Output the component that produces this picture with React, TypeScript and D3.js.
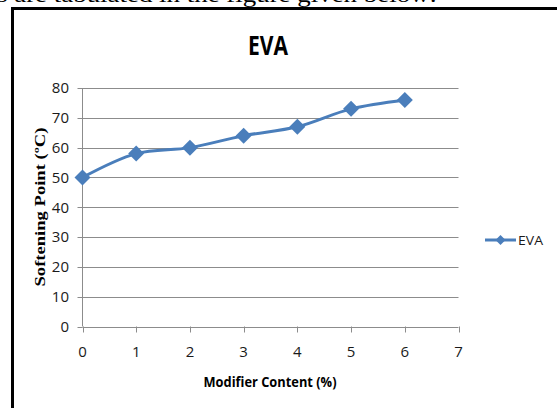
import React from "react";
import * as d3 from "d3";

const categories = [0, 1, 2, 3, 4, 5, 6];
const evaValues = [50, 58, 60, 64, 67, 73, 76];
const xTicks = [0, 1, 2, 3, 4, 5, 6, 7];
const yTicks = [0, 10, 20, 30, 40, 50, 60, 70, 80];

const W = 557;
const H = 408;
const left = 82.5;
const right = 458.5;
const top = 88;
const bottom = 326.5;
const blue = "#4A7EBB";

export default function App() {
  const x = d3.scaleLinear().domain([0, 7]).range([left, right]);
  const y = d3.scaleLinear().domain([0, 80]).range([bottom, top]);
  const line = d3
    .line<number>()
    .x((_, i) => x(categories[i]))
    .y((d) => y(d))
    .curve(d3.curveCatmullRom.alpha(0.5));
  const diamond = (cx: number, cy: number, r: number) =>
    `M${cx},${cy - r}L${cx + r},${cy}L${cx},${cy + r}L${cx - r},${cy}Z`;

  return (
    <svg
      width={W}
      height={H}
      style={{ position: "absolute", left: 0, top: 0, background: "#fff" }}
    >
      <rect x={0} y={0} width={W} height={H} fill="#fff" />
      <text
        x={-3}
        y={2}
        fontFamily="Liberation Serif, serif"
        fontSize={21}
        textLength={440}
        lengthAdjust="spacingAndGlyphs"
        fill="#000"
      >
        s are tabulated in the figure given below:
      </text>
      <line x1={11} y1={8.5} x2={W} y2={8.5} stroke="#000" strokeWidth={3} />
      <line x1={12.5} y1={7} x2={12.5} y2={H} stroke="#000" strokeWidth={3} />
      <text
        x={268}
        y={55}
        textAnchor="middle"
        fontFamily="Open Sans, sans-serif"
        fontWeight="bold"
        fontSize={26}
        textLength={40}
        lengthAdjust="spacingAndGlyphs"
      >
        EVA
      </text>
      {yTicks.map((t) => (
        <g key={t}>
          <line
            x1={left}
            x2={right}
            y1={Math.round(y(t)) + 0.5}
            y2={Math.round(y(t)) + 0.5}
            stroke="#8c8c8c"
            strokeWidth={1}
          />
          <line
            x1={left - 5}
            x2={left}
            y1={Math.round(y(t)) + 0.5}
            y2={Math.round(y(t)) + 0.5}
            stroke="#8c8c8c"
          />
          <text
            x={69}
            y={y(t)}
            dy="0.36em"
            textAnchor="end"
            fontFamily="Open Sans, sans-serif"
            fontSize={15}
            fill="#1a1a1a"
          >
            {t}
          </text>
        </g>
      ))}
      <line x1={left} x2={left} y1={top} y2={bottom} stroke="#8c8c8c" />
      {xTicks.map((t) => (
        <g key={t}>
          <line
            x1={Math.round(x(t)) + 0.5}
            x2={Math.round(x(t)) + 0.5}
            y1={bottom}
            y2={bottom + 6}
            stroke="#8c8c8c"
          />
          <text
            x={x(t)}
            y={352}
            dy="0.36em"
            textAnchor="middle"
            fontFamily="Open Sans, sans-serif"
            fontSize={15}
            fill="#1a1a1a"
          >
            {t}
          </text>
        </g>
      ))}
      <text
        x={270}
        y={382}
        dy="0.35em"
        textAnchor="middle"
        fontFamily="Open Sans, sans-serif"
        fontWeight="bold"
        fontSize={13.5}
        textLength={133}
        lengthAdjust="spacingAndGlyphs"
      >
        Modifier Content (%)
      </text>
      <text
        transform="translate(45,207) rotate(-90)"
        textAnchor="middle"
        fontFamily="Liberation Serif, serif"
        fontWeight="bold"
        fontSize={15}
        textLength={159}
        lengthAdjust="spacingAndGlyphs"
      >
        Softening Point (ºC)
      </text>
      <path d={line(evaValues) || ""} fill="none" stroke={blue} strokeWidth={3} />
      {evaValues.map((v, i) => (
        <path key={i} d={diamond(x(categories[i]), y(v), 8)} fill={blue} />
      ))}
      <line x1={485} x2={516} y1={240} y2={240} stroke={blue} strokeWidth={3} />
      <path d={diamond(500.5, 240, 5)} fill={blue} />
      <text
        x={518}
        y={240}
        dy="0.36em"
        fontFamily="Open Sans, sans-serif"
        fontSize={13}
        textLength={25}
        lengthAdjust="spacingAndGlyphs"
        fill="#1a1a1a"
      >
        EVA
      </text>
    </svg>
  );
}
